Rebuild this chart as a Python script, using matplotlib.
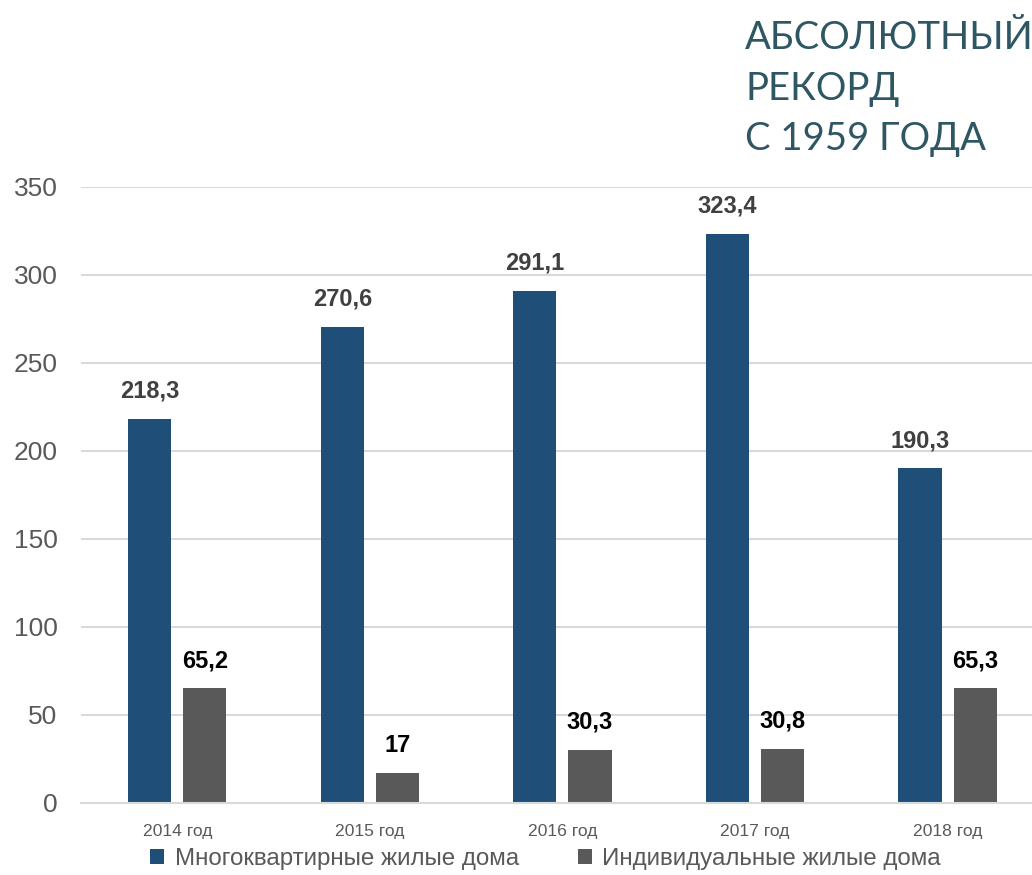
import matplotlib
import matplotlib.pyplot as plt
import numpy as np

plt.rcParams['font.family'] = ['Liberation Sans Narrow', 'Liberation Sans', 'DejaVu Sans']

years = ['2014 год', '2015 год', '2016 год', '2017 год', '2018 год']
multi = [218.3, 270.6, 291.1, 323.4, 190.3]
indiv = [65.2, 17, 30.3, 30.8, 65.3]
multi_lbl = ['218,3', '270,6', '291,1', '323,4', '190,3']
indiv_lbl = ['65,2', '17', '30,3', '30,8', '65,3']
names = ['Многоквартирные жилые дома', 'Индивидуальные жилые дома']

blue = '#1F4E79'
grey = '#595959'

fig = plt.figure(figsize=(10.32, 8.75), dpi=100)
ax = fig.add_axes([0.0785, 0.0823, 0.933, 0.7040])

x = np.arange(len(years))
w = 0.224
off = 0.143
b1 = ax.bar(x - off, multi, w, color=blue, label=names[0])
b2 = ax.bar(x + off, indiv, w, color=grey, label=names[1])

for i in range(len(x)):
    ax.text(x[i] - off, multi[i] + 9, multi_lbl[i], ha='center', va='bottom',
            fontsize=17, fontweight='bold', color='#404040')
    ax.text(x[i] + off, indiv[i] + 9, indiv_lbl[i], ha='center', va='bottom',
            fontsize=17, fontweight='bold', color='#000000')

ax.set_xlim(-0.5, 4.5)
ax.set_ylim(0, 350)
ax.set_yticks(range(0, 351, 50))
ax.set_xticks(x)
ax.set_xticklabels(years)
ax.yaxis.grid(True, color='#D9D9D9', linewidth=1.5)
ax.set_axisbelow(True)
for s in ['top', 'right', 'left']:
    ax.spines[s].set_visible(False)
ax.spines['bottom'].set_color('#D9D9D9')
ax.spines['bottom'].set_linewidth(1.5)
ax.tick_params(axis='y', length=0, labelsize=19, labelcolor='#595959', pad=17)
ax.tick_params(axis='x', length=0, labelsize=12.6, labelcolor='#595959', pad=15)

fig.legend(handles=[b1, b2], loc='center', bbox_to_anchor=(0.5286, 0.018), ncol=2,
           frameon=False, fontsize=17.4, labelcolor='#595959', handlelength=0.58,
           handleheight=0.58, handletextpad=0.42, columnspacing=2.45)

fig.text(0.722, 0.977, 'АБСОЛЮТНЫЙ\nРЕКОРД\nС 1959 ГОДА', ha='left', va='top',
         fontsize=27.5, color='#2F5763', family=['Lato', 'DejaVu Sans'],
         linespacing=1.5)

fig.savefig('out.png', dpi=100)
